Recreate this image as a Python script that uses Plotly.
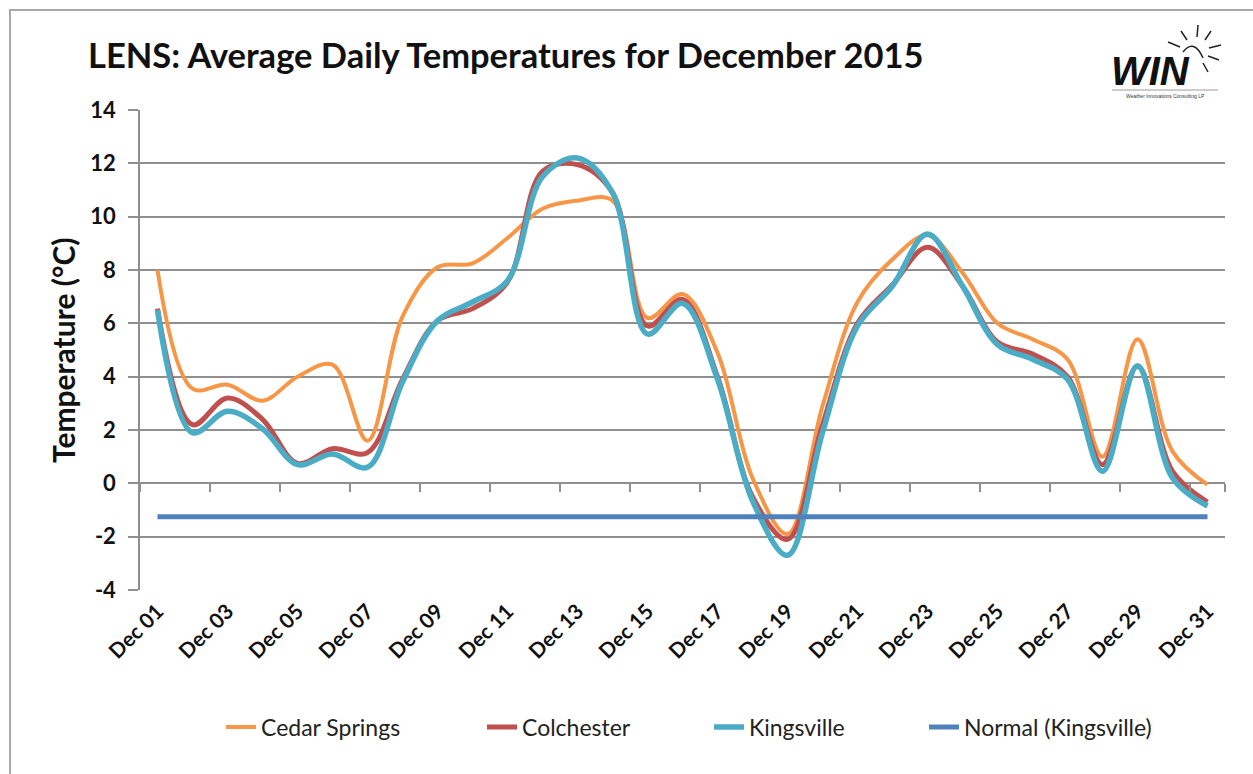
import plotly.graph_objects as go

categories = ["Dec 01", "Dec 02", "Dec 03", "Dec 04", "Dec 05", "Dec 06", "Dec 07", "Dec 08",
              "Dec 09", "Dec 10", "Dec 11", "Dec 12", "Dec 13", "Dec 14", "Dec 15", "Dec 16",
              "Dec 17", "Dec 18", "Dec 19", "Dec 20", "Dec 21", "Dec 22", "Dec 23", "Dec 24",
              "Dec 25", "Dec 26", "Dec 27", "Dec 28", "Dec 29", "Dec 30", "Dec 31"]

cedar_springs = [8.0, 3.55, 3.7, 3.1, 4.0, 4.45, 1.6, 6.25, 8.1, 8.25, 9.2, 10.3, 10.6, 10.6,
                 6.2, 7.1, 4.9, 0.2, -1.9, 2.9, 6.8, 8.4, 9.3, 7.9, 6.0, 5.4, 4.65, 1.0, 5.4, 1.2, -0.05]
colchester = [6.55, 2.2, 3.2, 2.4, 0.75, 1.3, 1.15, 3.9, 6.1, 6.55, 7.55, 11.7, 11.95, 10.9,
              5.9, 6.9, 4.0, -0.5, -2.1, 2.2, 6.0, 7.45, 8.85, 7.4, 5.3, 4.85, 4.0, 0.7, 4.4, 0.45, -0.7]
kingsville = [6.5, 1.9, 2.7, 2.05, 0.7, 1.1, 0.6, 3.8, 6.1, 6.8, 7.6, 11.5, 12.2, 10.9,
              5.6, 6.75, 3.9, -0.65, -2.7, 1.9, 5.9, 7.4, 9.35, 7.4, 5.2, 4.65, 3.9, 0.45, 4.4, 0.2, -0.85]
normal_kingsville = [-1.25] * 31

tick_labels = categories[::2]
y_ticks = [-4, -2, 0, 2, 4, 6, 8, 10, 12, 14]

W, H = 1253, 774
L, R, T, B = 140, 28, 110, 184
PW, PH = W - L - R, H - T - B


def px(x):
    return (x - L) / PW


def py(y):
    return (H - B - y) / PH


FONT = "Lato, 'Open Sans', sans-serif"
GRID = "#8f8f8f"

fig = go.Figure()
series = [
    ("Cedar Springs", cedar_springs, "#F79646", 4, "legend", 261),
    ("Colchester", colchester, "#C0504D", 5, "legend2", 522),
    ("Kingsville", kingsville, "#4BACC6", 5.5, "legend3", 749),
    ("Normal (Kingsville)", normal_kingsville, "#4F81BD", 5, "legend4", 964),
]
legend_layout = {}
for name, vals, col, w, lg, text_x in series:
    fig.add_trace(go.Scatter(x=categories, y=vals, name=name, mode="lines", legend=lg,
                             line=dict(color=col, width=w, shape="spline", smoothing=1.0)))
    legend_layout[lg] = dict(orientation="h", x=px(text_x - 40), xanchor="left",
                             y=py(727), yanchor="middle", bgcolor="rgba(0,0,0,0)",
                             font=dict(size=23, family=FONT, color="#222222"))

# invisible trace carrying the tick-mark axis that crosses at zero
fig.add_trace(go.Scatter(x=categories, y=normal_kingsville, xaxis="x2", yaxis="y", mode="lines",
                         line=dict(width=0), opacity=0, showlegend=False, hoverinfo="skip"))

fig.update_layout(
    width=W, height=H,
    margin=dict(l=L, r=R, t=T, b=B),
    paper_bgcolor="white", plot_bgcolor="white",
    font=dict(family=FONT, color="#1a1a1a"),
    title=dict(text="<b>LENS: Average Daily Temperatures for December 2015</b>",
               x=88 / W, xanchor="left", y=1 - 56 / H, yanchor="middle",
               font=dict(size=34.5, family=FONT, color="#111111")),
    xaxis=dict(type="category", range=[-0.5, 30.5], tickmode="array", tickvals=tick_labels,
               ticktext=["<b>%s</b>" % t for t in tick_labels], tickangle=-45,
               ticks="", showgrid=False, showline=False, zeroline=False,
               tickfont=dict(size=21, family=FONT, color="#111111"), ticklabelstandoff=4),
    xaxis2=dict(type="category", overlaying="x", matches="x", anchor="free", position=4 / 18,
                tickmode="array", tickvals=tick_labels, tickson="boundaries", ticks="outside",
                ticklen=8, tickwidth=1.5, tickcolor=GRID, showticklabels=False, showgrid=False,
                showline=False, zeroline=False),
    yaxis=dict(range=[-4, 14], tickmode="array", tickvals=y_ticks,
               ticktext=["<b>%d</b>" % v for v in y_ticks],
               showgrid=True, gridcolor=GRID, gridwidth=1.5, zeroline=False,
               showline=True, linecolor=GRID, linewidth=1.5,
               ticks="outside", ticklen=10, tickwidth=1.5, tickcolor=GRID,
               tickfont=dict(size=22, family=FONT, color="#111111"), ticklabelstandoff=8),
    showlegend=True,
    **legend_layout,
)

fig.add_annotation(text="<b>Temperature (°C)</b>", xref="paper", yref="paper",
                   x=px(63), y=0.5, xanchor="center", yanchor="middle", textangle=-90,
                   showarrow=False, font=dict(size=30, family=FONT, color="#111111"))

# WIN logo
fig.add_annotation(text="<b><i>WIN</i></b>", xref="paper", yref="paper", x=px(1150), y=py(71),
                   xanchor="center", yanchor="middle", showarrow=False,
                   font=dict(size=40, family="Liberation Sans, Arial, sans-serif", color="#111111"))
fig.add_annotation(text="Weather Innovations Consulting LP", xref="paper", yref="paper",
                   x=px(1165), y=py(96), xanchor="center", yanchor="middle", showarrow=False,
                   font=dict(size=5, family="Liberation Sans, Arial, sans-serif", color="#333333"))

shapes = []
shapes.append(dict(type="rect", xref="paper", yref="paper", x0=px(10), y0=py(10), x1=px(1270),
                   y1=py(790), line=dict(color="#a8a8a8", width=2), fillcolor="rgba(0,0,0,0)",
                   layer="below"))
shapes.append(dict(type="line", xref="paper", yref="paper", x0=px(1112), y0=py(90), x1=px(1218),
                   y1=py(90), line=dict(color="#9a9a9a", width=1)))
rays = [((1198, 25), (1197, 37)), ((1181, 31), (1187, 40)), ((1168, 42), (1180, 47)),
        ((1211, 31), (1205, 40)), ((1221, 45), (1209, 48)), ((1219, 60), (1208, 56)),
        ((1208, 72), (1203, 63))]
for (x0, y0), (x1, y1) in rays:
    shapes.append(dict(type="line", xref="paper", yref="paper", x0=px(x0), y0=py(y0),
                       x1=px(x1), y1=py(y1), line=dict(color="#222222", width=1.5)))
shapes.append(dict(type="path", xref="paper", yref="paper",
                   path="M %f,%f Q %f,%f %f,%f" % (px(1183), py(52), px(1194), py(38), px(1203), py(58)),
                   line=dict(color="#222222", width=1.5)))
fig.update_layout(shapes=shapes)

fig.write_html("out.html", include_plotlyjs=True, config={"displayModeBar": False},
               post_script="document.body.style.margin='0';document.body.style.overflow='hidden';")
